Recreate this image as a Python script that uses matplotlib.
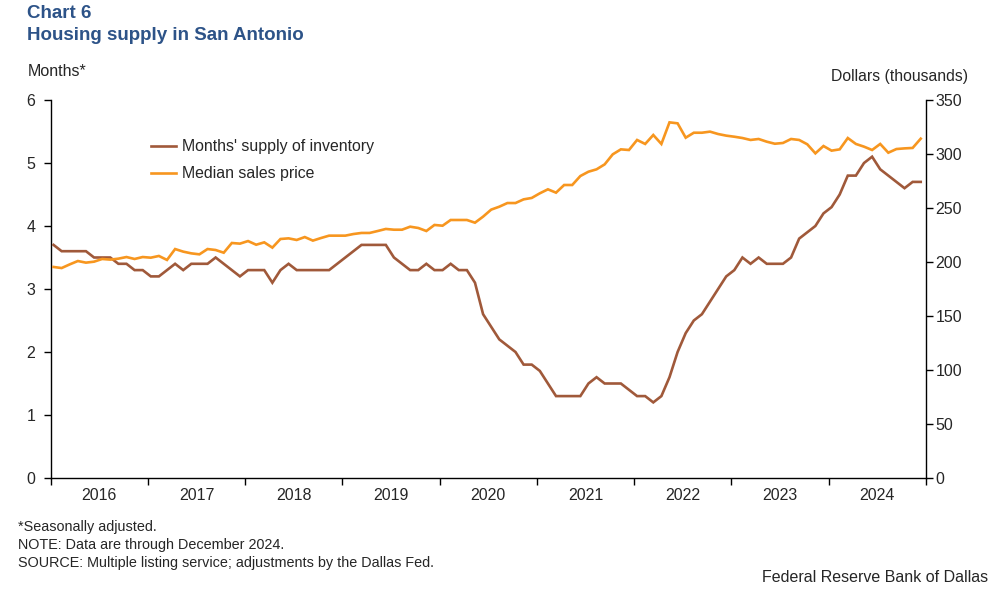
import numpy as np
import matplotlib
matplotlib.use("Agg")
import matplotlib.pyplot as plt
from matplotlib.ticker import FixedLocator, NullFormatter

plt.rcParams['font.family'] = ['Liberation Sans', 'DejaVu Sans']

years = ['2016', '2017', '2018', '2019', '2020', '2021', '2022', '2023', '2024']

# Months' supply of inventory, Jan 2016 - Dec 2024 (monthly)
months_supply = [
    3.7, 3.6, 3.6, 3.6, 3.6, 3.5, 3.5, 3.5, 3.4, 3.4, 3.3, 3.3,   # 2016
    3.2, 3.2, 3.3, 3.4, 3.3, 3.4, 3.4, 3.4, 3.5, 3.4, 3.3, 3.2,   # 2017
    3.3, 3.3, 3.3, 3.1, 3.3, 3.4, 3.3, 3.3, 3.3, 3.3, 3.3, 3.4,   # 2018
    3.5, 3.6, 3.7, 3.7, 3.7, 3.7, 3.5, 3.4, 3.3, 3.3, 3.4, 3.3,   # 2019
    3.3, 3.4, 3.3, 3.3, 3.1, 2.6, 2.4, 2.2, 2.1, 2.0, 1.8, 1.8,   # 2020
    1.7, 1.5, 1.3, 1.3, 1.3, 1.3, 1.5, 1.6, 1.5, 1.5, 1.5, 1.4,   # 2021
    1.3, 1.3, 1.2, 1.3, 1.6, 2.0, 2.3, 2.5, 2.6, 2.8, 3.0, 3.2,   # 2022
    3.3, 3.5, 3.4, 3.5, 3.4, 3.4, 3.4, 3.5, 3.8, 3.9, 4.0, 4.2,   # 2023
    4.3, 4.5, 4.8, 4.8, 5.0, 5.1, 4.9, 4.8, 4.7, 4.6, 4.7, 4.7,   # 2024
]

# Median sales price, thousands of dollars
median_price = [
    195.4, 194.4, 197.8, 200.9, 199.4, 200.3, 202.8, 202.2, 203.1, 204.6, 202.8, 204.6,
    204.0, 205.6, 201.9, 212.0, 209.6, 208.0, 207.1, 212.0, 211.1, 208.6, 217.6, 217.0,
    219.4, 216.0, 218.2, 213.3, 221.3, 221.9, 220.4, 223.1, 219.8, 222.2, 224.4, 224.4,
    224.4, 225.9, 226.9, 226.9, 228.7, 230.6, 229.9, 229.9, 232.7, 231.5, 228.7, 234.3,
    233.6, 238.9, 238.9, 238.9, 236.4, 242.0, 248.5, 251.2, 254.6, 254.6, 258.0, 259.3,
    263.6, 267.3, 264.2, 271.3, 271.3, 279.6, 283.6, 285.8, 290.4, 299.7, 304.3, 303.7,
    313.0, 309.3, 317.6, 309.3, 329.3, 328.4, 315.1, 319.7, 319.7, 320.7, 318.5, 317.0,
    316.0, 314.8, 313.0, 313.9, 311.4, 309.5, 310.2, 313.9, 313.0, 309.0, 300.6, 307.4,
    303.1, 304.3, 314.8, 309.3, 306.8, 303.7, 309.3, 301.2, 304.6, 305.2, 305.6, 314.2,
]

brown = '#A0593A'
orange = '#F7961F'
blue = '#2D5388'
txt = '#262626'

fig = plt.figure(figsize=(9.97, 5.89), dpi=100)
ax = fig.add_axes([50.7/997, 1-478/589, (926-50.7)/997, (478-100)/589])
ax2 = ax.twinx()

x = np.arange(len(months_supply)) + 0.35
l1, = ax.plot(x, months_supply, color=brown, lw=1.9, solid_joinstyle='miter', zorder=3,
              label="Months' supply of inventory")
l2, = ax2.plot(x, median_price, color=orange, lw=1.9, solid_joinstyle='miter', zorder=3,
               label='Median sales price')

ax.set_xlim(0, 12*len(years))
ax.set_ylim(0, 6)
ax2.set_ylim(0, 350)
ax.set_yticks(range(0, 7))
ax2.set_yticks(range(0, 351, 50))

ax.xaxis.set_major_locator(FixedLocator([12*i for i in range(len(years)+1)]))
ax.xaxis.set_major_formatter(NullFormatter())
ax.xaxis.set_minor_locator(FixedLocator([12*i+6 for i in range(len(years))]))
ax.set_xticklabels(years, minor=True)
ax.tick_params(axis='x', which='major', length=5, width=1, direction='out', color='black')
ax.tick_params(axis='x', which='minor', length=0, pad=7.5, labelsize=11.5, labelcolor=txt)
ax.tick_params(axis='y', length=5, width=1, direction='out', pad=6, labelsize=11.5, labelcolor=txt)
ax2.tick_params(axis='y', length=5, width=1, direction='out', pad=2, labelsize=11.5, labelcolor=txt)

for a in (ax, ax2):
    a.spines['top'].set_visible(False)
    for s in ('left', 'right', 'bottom'):
        a.spines[s].set_color('black')
        a.spines[s].set_linewidth(1)
ax.spines['right'].set_visible(False)
ax2.spines['left'].set_visible(False)
ax2.spines['bottom'].set_visible(False)

leg = ax.legend(handles=[l1, l2], loc='upper left', bbox_to_anchor=(0.1075, 0.913),
                frameon=False, fontsize=11.4, handlelength=1.6, handletextpad=0.33,
                labelspacing=0.77, borderaxespad=0)
for t in leg.get_texts():
    t.set_color(txt)

fig.text(27/997, 1-14/589, 'Chart 6', fontsize=13.5, fontweight='bold', color=blue,
         ha='left', va='center')
fig.text(27/997, 1-35/589, 'Housing supply in San Antonio', fontsize=13.5, fontweight='bold',
         color=blue, ha='left', va='center')
fig.text(28/997, 1-72/589, 'Months*', fontsize=11.5, color=txt, ha='left', va='center')
fig.text(968/997, 1-77/589, 'Dollars (thousands)', fontsize=11.3, color=txt, ha='right', va='center')

notes = ['*Seasonally adjusted.', 'NOTE: Data are through December 2024.',
         'SOURCE: Multiple listing service; adjustments by the Dallas Fed.']
for i, n in enumerate(notes):
    fig.text(18/997, 1-(527+18*i)/589, n, fontsize=10.4, color=txt, ha='left', va='center')
fig.text(988/997, 1-578/589, 'Federal Reserve Bank of Dallas', fontsize=11.5, color=txt,
         ha='right', va='center')

fig.savefig('out.png', dpi=100, facecolor='white')
